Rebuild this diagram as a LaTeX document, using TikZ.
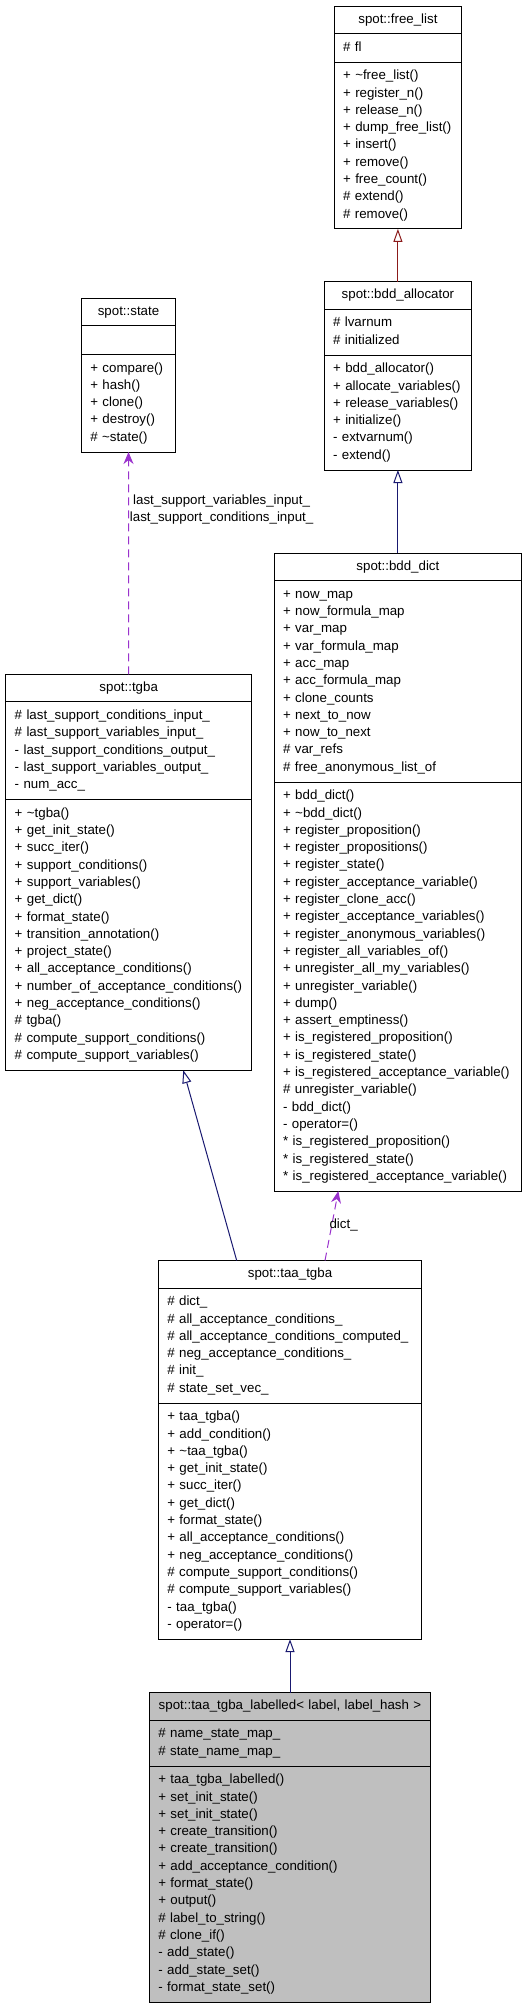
\documentclass[tikz,border=0pt]{standalone}
\usepackage{fontspec}
\setmainfont{Liberation Sans}
\usepackage{tikz}
\usetikzlibrary{
  arrows.meta,   % Triangle / Stealth 箭头
  calc,          % 坐标计算
  positioning    % 节点相对定位（各栏上下相接）
}

\definecolor{inheritblue}{HTML}{191970}
\definecolor{inheritred}{HTML}{8B1A1A}
\definecolor{usepurple}{HTML}{9A32CD}
\definecolor{boxgray}{HTML}{BFBFBF}

\newcommand{\umlfont}{\fontsize{13.3}{17.3}\selectfont}

\tikzset{
  cls/.style={draw, line width=1pt, inner xsep=9pt, inner ysep=5.6pt,
    outer sep=0pt, font=\umlfont, text width=#1,
    execute at begin node=\strut, execute at end node=\strut},
  clstitle/.style={cls=#1, align=center, anchor=north, inner ysep=5.1pt},
  clsbody/.style={cls=#1, align=left},
  inherit/.style={line width=1pt, -{Triangle[open, length=13pt, width=9pt]}},
  usage/.style={line width=1pt, usepurple, dash pattern=on 8pt off 5pt,
    -{Stealth[length=12pt, width=10pt]}},
  edgelabel/.style={font=\umlfont, inner sep=0pt, align=center}
}

\begin{document}
\begin{tikzpicture}[x=1pt, y=-1pt]

  \useasboundingbox (0,0) rectangle (525,2008);

  % =========== spot::free_list (右上) ===========
  \node[clstitle=109.7pt] (freelist) at (397.9, 6) {spot::free\_list};
  \node[clsbody=109.7pt, below=0pt of freelist] (freelist-a) {\# fl};
  \node[clsbody=109.7pt, below=0pt of freelist-a] (freelist-m) {%
    + \textasciitilde free\_list()\\ + register\_n()\\ + release\_n()\\
    + dump\_free\_list()\\ + insert()\\ + remove()\\ + free\_count()\\
    \# extend()\\ \# remove()};

  % =========== spot::bdd_allocator ===========
  \node[clstitle=129.7pt] (bddalloc) at (397.9, 281.7) {spot::bdd\_allocator};
  \node[clsbody=129.7pt, below=0pt of bddalloc] (bddalloc-a) {\# lvarnum\\ \# initialized};
  \node[clsbody=129.7pt, below=0pt of bddalloc-a] (bddalloc-m) {%
    + bdd\_allocator()\\ + allocate\_variables()\\ + release\_variables()\\
    + initialize()\\ - extvarnum()\\ - extend()};

  % =========== spot::bdd_dict ===========
  \node[clstitle=229.7pt] (bdddict) at (397.9, 553) {spot::bdd\_dict};
  \node[clsbody=229.7pt, below=0pt of bdddict] (bdddict-a) {%
    + now\_map\\ + now\_formula\_map\\ + var\_map\\ + var\_formula\_map\\
    + acc\_map\\ + acc\_formula\_map\\ + clone\_counts\\ + next\_to\_now\\
    + now\_to\_next\\ \# var\_refs\\ \# free\_anonymous\_list\_of};
  \node[clsbody=229.7pt, below=0pt of bdddict-a] (bdddict-m) {%
    + bdd\_dict()\\ + \textasciitilde bdd\_dict()\\ + register\_proposition()\\
    + register\_propositions()\\ + register\_state()\\
    + register\_acceptance\_variable()\\ + register\_clone\_acc()\\
    + register\_acceptance\_variables()\\ + register\_anonymous\_variables()\\
    + register\_all\_variables\_of()\\ + unregister\_all\_my\_variables()\\
    + unregister\_variable()\\ + dump()\\ + assert\_emptiness()\\
    + is\_registered\_proposition()\\ + is\_registered\_state()\\
    + is\_registered\_acceptance\_variable()\\ \# unregister\_variable()\\
    - bdd\_dict()\\ - operator=()\\ {*} is\_registered\_proposition()\\
    {*} is\_registered\_state()\\ {*} is\_registered\_acceptance\_variable()};

  % =========== spot::state (左上) ===========
  \node[clstitle=76.4pt] (state) at (128.5, 298.3) {spot::state};
  \node[clsbody=76.4pt, below=0pt of state] (state-a) {};
  \node[clsbody=76.4pt, below=0pt of state-a] (state-m) {%
    + compare()\\ + hash()\\ + clone()\\ + destroy()\\ \# \textasciitilde state()};

  % =========== spot::tgba ===========
  \node[clstitle=228pt] (tgba) at (128.7, 674.3) {spot::tgba};
  \node[clsbody=228pt, below=0pt of tgba] (tgba-a) {%
    \# last\_support\_conditions\_input\_\\ \# last\_support\_variables\_input\_\\
    - last\_support\_conditions\_output\_\\ - last\_support\_variables\_output\_\\
    - num\_acc\_};
  \node[clsbody=228pt, below=0pt of tgba-a] (tgba-m) {%
    + \textasciitilde tgba()\\ + get\_init\_state()\\ + succ\_iter()\\
    + support\_conditions()\\ + support\_variables()\\ + get\_dict()\\
    + format\_state()\\ + transition\_annotation()\\ + project\_state()\\
    + all\_acceptance\_conditions()\\ + number\_of\_acceptance\_conditions()\\
    + neg\_acceptance\_conditions()\\ \# tgba()\\
    \# compute\_support\_conditions()\\ \# compute\_support\_variables()};

  % =========== spot::taa_tgba ===========
  \node[clstitle=245.4pt] (taa) at (290, 1260.5) {spot::taa\_tgba};
  \node[clsbody=245.4pt, below=0pt of taa] (taa-a) {%
    \# dict\_\\ \# all\_acceptance\_conditions\_\\
    \# all\_acceptance\_conditions\_computed\_\\ \# neg\_acceptance\_conditions\_\\
    \# init\_\\ \# state\_set\_vec\_};
  \node[clsbody=245.4pt, below=0pt of taa-a] (taa-m) {%
    + taa\_tgba()\\ + add\_condition()\\ + \textasciitilde taa\_tgba()\\
    + get\_init\_state()\\ + succ\_iter()\\ + get\_dict()\\ + format\_state()\\
    + all\_acceptance\_conditions()\\ + neg\_acceptance\_conditions()\\
    \# compute\_support\_conditions()\\ \# compute\_support\_variables()\\
    - taa\_tgba()\\ - operator=()};

  % =========== spot::taa_tgba_labelled (底部，灰底) ===========
  \node[clstitle=263.4pt, fill=boxgray] (labelled) at (290, 1692.7)
    {\mbox{spot::taa\_tgba\_labelled< label, label\_hash >}};
  \node[clsbody=263.4pt, fill=boxgray, below=0pt of labelled] (labelled-a) {%
    \# name\_state\_map\_\\ \# state\_name\_map\_};
  \node[clsbody=263.4pt, fill=boxgray, below=0pt of labelled-a] (labelled-m) {%
    + taa\_tgba\_labelled()\\ + set\_init\_state()\\ + set\_init\_state()\\
    + create\_transition()\\ + create\_transition()\\
    + add\_acceptance\_condition()\\ + format\_state()\\ + output()\\
    \# label\_to\_string()\\ \# clone\_if()\\ - add\_state()\\
    - add\_state\_set()\\ - format\_state\_set()};

  % =========== 继承与使用关系 ===========
  \draw[inherit, inheritred] (bddalloc.north) -- (freelist-m.south);
  \draw[inherit, inheritblue] (bdddict.north) -- (bddalloc-m.south);
  \draw[inherit, inheritblue] ([xshift=-53.3pt]taa.north) -- ([xshift=54.6pt]tgba-m.south);
  \draw[inherit, inheritblue] (labelled.north) -- (taa-m.south);

  % 虚线：成员引用
  \draw[usage] (tgba.north) -- (state-m.south);
  \node[edgelabel] (lbl-state) at (221.6, 509.7)
    {last\_support\_variables\_input\_\\ last\_support\_conditions\_input\_};
  \draw[usage] ([xshift=35pt]taa.north) -- ([xshift=-59.6pt]bdddict-m.south);
  \node[edgelabel] (lbl-dict) at (343.6, 1225) {dict\_};

\end{tikzpicture}
\end{document}
